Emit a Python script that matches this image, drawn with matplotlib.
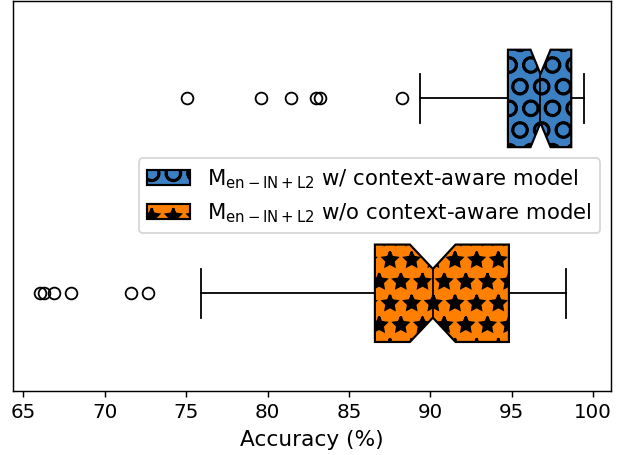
import matplotlib
matplotlib.use('Agg')
import matplotlib.pyplot as plt

plt.rcParams['font.size'] = 11
plt.rcParams['hatch.linewidth'] = 1.4

# box statistics (accuracy, %)
labels = [r'$\mathregular{M_{en-IN+L2}}$ w/o context-aware model',
          r'$\mathregular{M_{en-IN+L2}}$ w/ context-aware model']
q1 = [86.59, 94.76]
med = [90.15, 96.76]
q3 = [94.82, 98.65]
ci_lo = [88.74, 96.15]
ci_hi = [91.54, 97.38]
whis_lo = [75.93, 89.35]
whis_hi = [98.30, 99.42]
fliers = [[66.0, 66.26, 66.88, 67.95, 71.59, 72.68],
          [75.07, 79.57, 81.46, 82.95, 83.19, 88.27]]
colors = ['#ff8000', '#3a80c2']
hatches = ['*', 'O']

stats = []
for i in range(len(labels)):
    stats.append({'label': labels[i], 'q1': q1[i], 'med': med[i], 'q3': q3[i],
                  'cilo': ci_lo[i], 'cihi': ci_hi[i],
                  'whislo': whis_lo[i], 'whishi': whis_hi[i],
                  'fliers': fliers[i]})

dpi = 130
fig = plt.figure(figsize=(624/dpi, 455/dpi), dpi=dpi)
ax = fig.add_axes([12.5/624, 1-390.7/455, (611-12.5)/624, 389.7/455])

bp = ax.bxp(stats, positions=[1, 2], vert=False, shownotches=True,
            patch_artist=True, widths=0.5,
            boxprops=dict(linewidth=1.2),
            medianprops=dict(color='black'),
            flierprops=dict(marker='o', markersize=6.5, markerfacecolor='none',
                            markeredgecolor='black'))
for patch, c, h in zip(bp['boxes'], colors, hatches):
    patch.set_facecolor(c)
    patch.set_hatch(h)

ax.set_yticks([])
ax.set_xticks([65, 70, 75, 80, 85, 90, 95, 100])
ax.set_xlabel('Accuracy (%)', fontsize=12)
ax.legend([bp['boxes'][1], bp['boxes'][0]], [labels[1], labels[0]],
          loc='center right', fontsize=11.8)

fig.savefig('out.png', dpi=dpi)
